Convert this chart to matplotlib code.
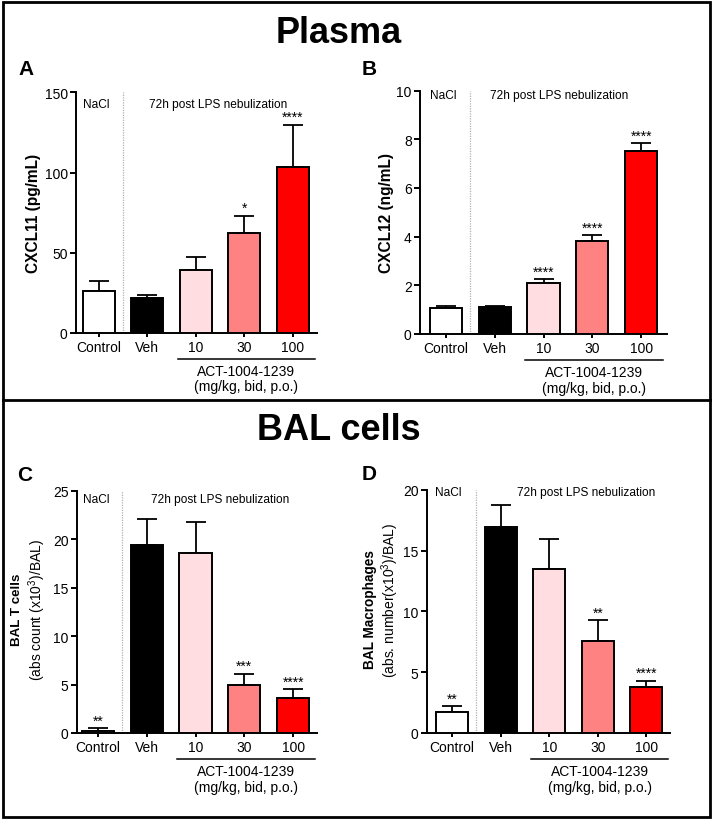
import matplotlib
matplotlib.use("Agg")
import matplotlib.pyplot as plt
from matplotlib.transforms import blended_transform_factory
from matplotlib.patches import Rectangle
from matplotlib.lines import Line2D

plt.rcParams['font.family'] = ['Liberation Sans', 'DejaVu Sans']
plt.rcParams['mathtext.fontset'] = 'custom'
plt.rcParams['mathtext.rm'] = 'Liberation Sans'
plt.rcParams['mathtext.it'] = 'Liberation Sans:italic'
plt.rcParams['mathtext.bf'] = 'Liberation Sans:bold'

# ---------------- data ----------------
groups = ["Control", "Veh", "10", "30", "100"]
bar_colors = ["#FFFFFF", "#000000", "#FFDDE0", "#FF8282", "#FF0000"]

cxcl11_mean = [26.0, 21.5, 39.0, 62.5, 103.7]
cxcl11_sem = [6.2, 1.9, 8.6, 10.6, 26.2]
cxcl11_stars = ["", "", "", "*", "****"]

cxcl12_mean = [1.04, 1.08, 2.10, 3.83, 7.53]
cxcl12_sem = [0.10, 0.04, 0.15, 0.24, 0.31]
cxcl12_stars = ["", "", "****", "****", "****"]

tcell_mean = [0.24, 19.4, 18.6, 5.0, 3.65]
tcell_sem = [0.24, 2.65, 3.15, 1.13, 0.89]
tcell_stars = ["**", "", "", "***", "****"]

macro_mean = [1.70, 16.9, 13.5, 7.6, 3.75]
macro_sem = [0.49, 1.84, 2.42, 1.70, 0.55]
macro_stars = ["**", "", "", "**", "****"]

W, H = 713, 820
fig = plt.figure(figsize=(W / 100, H / 100), dpi=100)


def axes_px(left, right, top, bottom):
    return fig.add_axes([left / W, 1 - bottom / H, (right - left) / W, (bottom - top) / H])


def panel(ax, means, sems, stars, ymax, yticks, xlim, nacl_x, lps_x, top_frac):
    x = list(range(len(groups)))
    ax.bar(x, means, width=0.66, color=bar_colors, edgecolor="black", linewidth=1.4, zorder=3)
    ax.errorbar(x, means, yerr=[[0] * len(sems), sems], fmt="none", ecolor="black",
                elinewidth=1.3, capsize=7.5, capthick=1.3, zorder=2)
    for xi, m, s, st in zip(x, means, sems, stars):
        if st:
            ax.annotate(st, (xi, m + s), xytext=(0, 2.5), textcoords="offset points",
                        ha="center", va="baseline", fontsize=10)
    ax.set_xlim(*xlim)
    ax.set_ylim(0, ymax)
    ax.set_yticks(yticks)
    ax.set_xticks(x)
    ax.set_xticklabels(groups)
    for sp in ["top", "right"]:
        ax.spines[sp].set_visible(False)
    for sp in ["left", "bottom"]:
        ax.spines[sp].set_linewidth(1.4)
    ax.tick_params(axis="y", length=4, width=1.4, labelsize=10, pad=2)
    ax.tick_params(axis="x", length=3, width=1.4, labelsize=10, pad=2)
    ax.axvline(0.5, color="#b0b0b0", linestyle=(0, (1, 1)), linewidth=0.9, zorder=1)
    tr = blended_transform_factory(ax.transData, ax.transAxes)
    ax.text(nacl_x, top_frac, "NaCl", transform=tr, ha="center", va="center", fontsize=8.6)
    ax.text(lps_x, top_frac, "72h post LPS nebulization", transform=tr, ha="center",
            va="center", fontsize=8.6)
    ax.plot([1.63, 4.45], [-0.108, -0.108], transform=tr, color="black", linewidth=1.1,
            clip_on=False)
    ax.text(3.04, -0.157, "ACT-1004-1239", transform=tr, ha="center", va="center", fontsize=10)
    ax.text(3.04, -0.222, "(mg/kg, bid, p.o.)", transform=tr, ha="center", va="center",
            fontsize=10)


axA = axes_px(76, 317, 93.3, 334)
panel(axA, cxcl11_mean, cxcl11_sem, cxcl11_stars, 150, [0, 50, 100, 150],
      (-0.47, 4.5), -0.05, 2.47, 0.95)
axA.text(-0.178, 0.5, "CXCL11 (pg/mL)", transform=axA.transAxes, rotation=90,
         ha="center", va="center", fontsize=11.2, fontweight="bold")

axB = axes_px(420, 667, 91.7, 334.7)
panel(axB, cxcl12_mean, cxcl12_sem, cxcl12_stars, 10, [0, 2, 4, 6, 8, 10],
      (-0.53, 4.53), -0.06, 2.32, 0.982)
axB.text(-0.134, 0.5, "CXCL12 (ng/mL)", transform=axB.transAxes, rotation=90,
         ha="center", va="center", fontsize=11.2, fontweight="bold")

axC = axes_px(77, 317, 491.7, 734)
panel(axC, tcell_mean, tcell_sem, tcell_stars, 25, [0, 5, 10, 15, 20, 25],
      (-0.43, 4.49), -0.04, 2.5, 0.966)
axC.text(-0.25, 0.512, "BAL T cells", transform=axC.transAxes, rotation=90,
         ha="center", va="center", fontsize=9.6, fontweight="bold")
axC.text(-0.167, 0.512, "(abs count (x10$^{3}$)/BAL)", transform=axC.transAxes, rotation=90,
         ha="center", va="center", fontsize=10)

axD = axes_px(427, 670, 490.7, 734)
panel(axD, macro_mean, macro_sem, macro_stars, 20, [0, 5, 10, 15, 20],
      (-0.52, 4.49), -0.08, 2.76, 0.99)
axD.text(-0.235, 0.51, "BAL Macrophages", transform=axD.transAxes, rotation=90,
         ha="center", va="center", fontsize=9.8, fontweight="bold")
axD.text(-0.152, 0.55, "(abs. number(x10$^{3}$)/BAL)", transform=axD.transAxes, rotation=90,
         ha="center", va="center", fontsize=10)

# titles and panel letters
fig.text(339 / W, 1 - 43 / H, "Plasma", ha="center", va="baseline", fontsize=26,
         fontweight="bold")
fig.text(339 / W, 1 - 440 / H, "BAL cells", ha="center", va="baseline", fontsize=26,
         fontweight="bold")
for letter, lx, ly in [("A", 18, 75), ("B", 362, 75), ("C", 17, 481), ("D", 362, 480)]:
    fig.text(lx / W, 1 - ly / H, letter, ha="left", va="baseline", fontsize=15,
             fontweight="bold")

# frame and divider
fig.add_artist(Rectangle((2.5 / W, 2.5 / H), (W - 5.5) / W, (H - 5) / H,
                         transform=fig.transFigure, fill=False, edgecolor="black",
                         linewidth=2))
fig.add_artist(Line2D([2.5 / W, (W - 3) / W], [1 - 401 / H, 1 - 401 / H],
                      transform=fig.transFigure, color="black", linewidth=2))

fig.savefig("out.png", dpi=100)
